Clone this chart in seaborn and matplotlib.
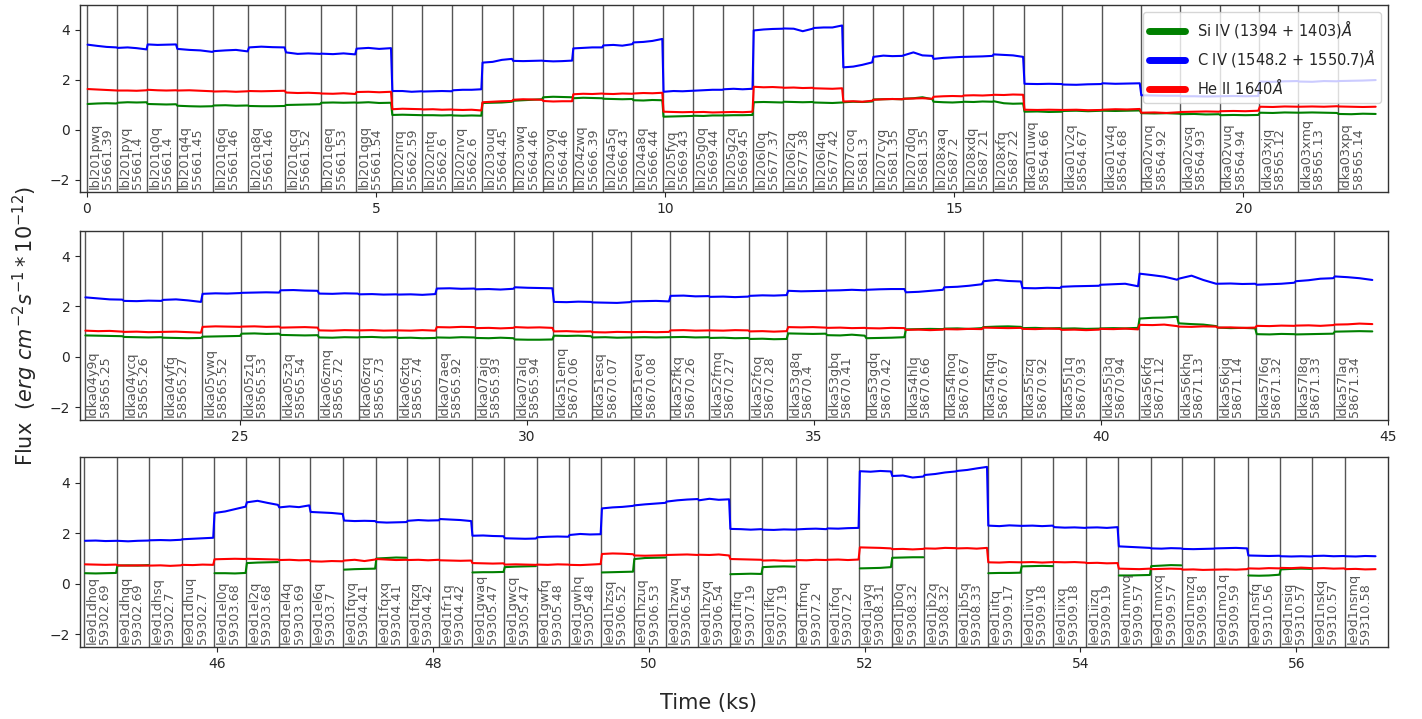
import numpy as np
import pandas as pd
import matplotlib
matplotlib.use("Agg")
import matplotlib.pyplot as plt
import matplotlib.transforms as mtransforms
from matplotlib.lines import Line2D
import seaborn as sns

sns.set_style("ticks")
plt.rcParams["font.family"] = ["DejaVu Sans"]

# ---------------- panel 1 ----------------
p1_obs = ["lbl201pwq", "lbl201pyq", "lbl201q0q", "lbl201q4q", "lbl201q6q", "lbl201q8q",
          "lbl201qcq", "lbl201qeq", "lbl201qgq", "lbl202nrq", "lbl202ntq", "lbl202nvq",
          "lbl203ouq", "lbl203owq", "lbl203oyq", "lbl204zwq", "lbl204a5q", "lbl204a8q",
          "lbl205fyq", "lbl205g0q", "lbl205g2q", "lbl206l0q", "lbl206l2q", "lbl206l4q",
          "lbl207coq", "lbl207cyq", "lbl207d0q", "lbl208xaq", "lbl208xdq", "lbl208xfq",
          "ldka01uwq", "ldka01v2q", "ldka01v4q", "ldka02vnq", "ldka02vsq", "ldka02vuq",
          "ldka03xjq", "ldka03xmq", "ldka03xpq"]
p1_mjd = ["55661.39", "55661.4", "55661.4", "55661.45", "55661.46", "55661.46",
          "55661.52", "55661.53", "55661.54", "55662.59", "55662.6", "55662.6",
          "55664.45", "55664.46", "55664.46", "55666.39", "55666.43", "55666.44",
          "55669.43", "55669.44", "55669.45", "55677.37", "55677.38", "55677.42",
          "55681.3", "55681.35", "55681.35", "55687.2", "55687.21", "55687.22",
          "58564.66", "58564.67", "58564.68", "58564.92", "58564.93", "58564.94",
          "58565.12", "58565.13", "58565.14"]
p1_start = [0.00, 0.52, 1.04, 1.55, 2.18, 2.79, 3.43, 4.04, 4.65, 5.27, 5.80, 6.32,
            6.83, 7.36, 7.88, 8.40, 8.92, 9.44, 9.96, 10.48, 11.00, 11.52, 12.04, 12.56,
            13.07, 13.59, 14.11, 14.63, 15.15, 15.67, 16.20, 16.87, 17.55, 18.22, 18.91,
            19.59, 20.27, 20.95, 21.63]
p1_end = 22.30
p1_si = [[1.03, 1.05, 1.06, 1.05], [1.08, 1.10, 1.09, 1.10], [1.03, 1.02, 1.01, 1.02],
         [0.96, 0.94, 0.93, 0.94], [0.97, 0.98, 0.96, 0.97], [0.95, 0.94, 0.94, 0.95],
         [0.99, 1.00, 1.01, 1.02], [1.08, 1.09, 1.08, 1.09], [1.08, 1.10, 1.07, 1.08],
         [0.59, 0.60, 0.59, 0.58], [0.58, 0.58, 0.57, 0.58], [0.57, 0.56, 0.57, 0.56],
         [1.07, 1.08, 1.09, 1.12], [1.16, 1.18, 1.20, 1.22], [1.30, 1.32, 1.31, 1.30],
         [1.26, 1.28, 1.27, 1.26], [1.24, 1.23, 1.22, 1.23], [1.18, 1.17, 1.19, 1.18],
         [0.52, 0.53, 0.54, 0.55], [0.56, 0.55, 0.57, 0.57], [0.57, 0.58, 0.58, 0.59],
         [1.10, 1.11, 1.10, 1.09], [1.12, 1.11, 1.10, 1.11], [1.09, 1.08, 1.07, 1.09],
         [1.10, 1.12, 1.11, 1.13], [1.21, 1.22, 1.23, 1.22], [1.24, 1.26, 1.30, 1.22],
         [1.12, 1.10, 1.09, 1.11], [1.12, 1.11, 1.13, 1.12], [1.14, 1.06, 1.04, 1.05],
         [0.72, 0.73, 0.71, 0.72], [0.75, 0.76, 0.74, 0.76], [0.76, 0.75, 0.76, 0.77],
         [0.66, 0.65, 0.66, 0.64], [0.62, 0.63, 0.61, 0.62], [0.58, 0.59, 0.58, 0.59],
         [0.68, 0.67, 0.69, 0.68], [0.68, 0.69, 0.68, 0.67], [0.63, 0.62, 0.64, 0.63]]
p1_civ = [[3.41, 3.36, 3.32, 3.30], [3.28, 3.30, 3.27, 3.22], [3.42, 3.40, 3.41, 3.42],
          [3.24, 3.20, 3.18, 3.12], [3.15, 3.18, 3.20, 3.14], [3.30, 3.33, 3.31, 3.30],
          [3.10, 3.04, 3.06, 3.04], [3.05, 3.03, 3.06, 3.02], [3.25, 3.28, 3.24, 3.27],
          [1.55, 1.55, 1.52, 1.54], [1.53, 1.54, 1.55, 1.54], [1.58, 1.60, 1.60, 1.62],
          [2.69, 2.72, 2.80, 2.84], [2.76, 2.75, 2.76, 2.77], [2.76, 2.74, 2.75, 2.77],
          [3.26, 3.28, 3.30, 3.30], [3.38, 3.40, 3.37, 3.43], [3.50, 3.52, 3.56, 3.64],
          [1.52, 1.55, 1.54, 1.56], [1.56, 1.58, 1.60, 1.60], [1.62, 1.64, 1.62, 1.64],
          [3.98, 4.02, 4.04, 4.05], [4.06, 4.05, 3.95, 4.05], [4.08, 4.10, 4.10, 4.18],
          [2.50, 2.53, 2.60, 2.70], [2.92, 2.97, 2.95, 2.96], [2.98, 3.10, 2.98, 2.96],
          [2.84, 2.88, 2.90, 2.92], [2.92, 2.93, 2.94, 2.96], [3.02, 3.00, 2.98, 2.92],
          [1.84, 1.83, 1.84, 1.83], [1.81, 1.80, 1.82, 1.83], [1.86, 1.84, 1.85, 1.86],
          [1.38, 1.37, 1.36, 1.36], [1.34, 1.34, 1.33, 1.34], [1.34, 1.35, 1.34, 1.35],
          [1.93, 1.92, 1.94, 1.95], [1.93, 1.92, 1.95, 1.94], [1.95, 1.96, 1.97, 1.99]]
p1_heii = [[1.63, 1.61, 1.59, 1.57], [1.57, 1.57, 1.56, 1.58], [1.60, 1.58, 1.57, 1.58],
           [1.57, 1.58, 1.56, 1.54], [1.53, 1.54, 1.52, 1.54], [1.55, 1.54, 1.55, 1.56],
           [1.49, 1.47, 1.48, 1.46], [1.45, 1.44, 1.46, 1.43], [1.51, 1.52, 1.50, 1.52],
           [0.82, 0.84, 0.83, 0.82], [0.81, 0.82, 0.80, 0.81], [0.80, 0.79, 0.80, 0.77],
           [1.10, 1.12, 1.14, 1.15], [1.20, 1.22, 1.21, 1.20], [1.15, 1.13, 1.14, 1.14],
           [1.42, 1.44, 1.43, 1.45], [1.44, 1.43, 1.45, 1.44], [1.45, 1.47, 1.46, 1.48],
           [0.72, 0.71, 0.70, 0.71], [0.70, 0.71, 0.69, 0.70], [0.70, 0.71, 0.70, 0.72],
           [1.72, 1.70, 1.71, 1.69], [1.68, 1.69, 1.67, 1.68], [1.66, 1.65, 1.64, 1.66],
           [1.13, 1.14, 1.12, 1.16], [1.20, 1.22, 1.23, 1.22], [1.24, 1.25, 1.26, 1.24],
           [1.32, 1.34, 1.35, 1.34], [1.37, 1.38, 1.37, 1.39], [1.40, 1.39, 1.41, 1.40],
           [0.80, 0.79, 0.80, 0.79], [0.79, 0.80, 0.78, 0.79], [0.80, 0.82, 0.81, 0.83],
           [0.68, 0.69, 0.67, 0.70], [0.71, 0.72, 0.73, 0.72], [0.74, 0.75, 0.74, 0.76],
           [0.92, 0.91, 0.93, 0.92], [0.92, 0.93, 0.92, 0.94], [0.93, 0.92, 0.91, 0.92]]

# ---------------- panel 2 ----------------
p2_obs = ["ldka04y9q", "ldka04ycq", "ldka04yfq", "ldka05ywq", "ldka05z1q", "ldka05z3q",
          "ldka06zmq", "ldka06zrq", "ldka06ztq", "ldka07aeq", "ldka07ajq", "ldka07alq",
          "ldka51emq", "ldka51esq", "ldka51evq", "ldka52fkq", "ldka52fmq", "ldka52foq",
          "ldka53g8q", "ldka53gbq", "ldka53gdq", "ldka54hlq", "ldka54hoq", "ldka54hqq",
          "ldka55izq", "ldka55j1q", "ldka55j3q", "ldka56kfq", "ldka56khq", "ldka56kjq",
          "ldka57l6q", "ldka57l8q", "ldka57laq"]
p2_mjd = ["58565.25", "58565.26", "58565.27", "58565.52", "58565.53", "58565.54",
          "58565.72", "58565.73", "58565.74", "58565.92", "58565.93", "58565.94",
          "58670.06", "58670.07", "58670.08", "58670.26", "58670.27", "58670.28",
          "58670.4", "58670.41", "58670.42", "58670.66", "58670.67", "58670.67",
          "58670.92", "58670.93", "58670.94", "58671.12", "58671.13", "58671.14",
          "58671.32", "58671.33", "58671.34"]
p2_start = [22.30, 22.97, 23.65, 24.34, 25.02, 25.70, 26.37, 27.07, 27.74, 28.42, 29.10,
            29.78, 30.46, 31.13, 31.81, 32.49, 33.18, 33.87, 34.54, 35.22, 35.90, 36.59,
            37.26, 37.94, 38.62, 39.30, 39.98, 40.66, 41.34, 42.02, 42.70, 43.38, 44.06]
p2_end = 44.74
p2_si = [[0.85, 0.84, 0.83, 0.82], [0.79, 0.78, 0.77, 0.78], [0.76, 0.75, 0.74, 0.75],
         [0.80, 0.81, 0.82, 0.83], [0.92, 0.93, 0.91, 0.92], [0.87, 0.86, 0.85, 0.86],
         [0.77, 0.76, 0.78, 0.77], [0.78, 0.79, 0.77, 0.78], [0.75, 0.76, 0.74, 0.75],
         [0.77, 0.76, 0.78, 0.77], [0.75, 0.74, 0.76, 0.74], [0.69, 0.68, 0.68, 0.69],
         [0.84, 0.83, 0.84, 0.82], [0.77, 0.78, 0.76, 0.77], [0.77, 0.78, 0.77, 0.78],
         [0.78, 0.79, 0.77, 0.78], [0.75, 0.76, 0.74, 0.75], [0.71, 0.72, 0.70, 0.71],
         [0.93, 0.92, 0.91, 0.92], [0.86, 0.85, 0.88, 0.84], [0.74, 0.75, 0.76, 0.78],
         [1.09, 1.10, 1.11, 1.10], [1.12, 1.13, 1.11, 1.14], [1.18, 1.20, 1.21, 1.19],
         [1.14, 1.15, 1.13, 1.14], [1.12, 1.13, 1.11, 1.12], [1.13, 1.14, 1.13, 1.15],
         [1.52, 1.55, 1.56, 1.59], [1.33, 1.30, 1.28, 1.22], [1.16, 1.14, 1.15, 1.13],
         [0.90, 0.89, 0.91, 0.90], [0.89, 0.90, 0.91, 0.92], [1.00, 1.01, 1.02, 1.01]]
p2_civ = [[2.36, 2.32, 2.28, 2.27], [2.22, 2.21, 2.23, 2.22], [2.26, 2.28, 2.24, 2.18],
          [2.50, 2.52, 2.51, 2.53], [2.54, 2.55, 2.56, 2.55], [2.64, 2.65, 2.63, 2.62],
          [2.51, 2.50, 2.52, 2.51], [2.48, 2.49, 2.47, 2.48], [2.47, 2.48, 2.46, 2.49],
          [2.71, 2.72, 2.70, 2.71], [2.68, 2.69, 2.67, 2.70], [2.76, 2.74, 2.73, 2.72],
          [2.18, 2.17, 2.19, 2.18], [2.16, 2.15, 2.14, 2.17], [2.20, 2.21, 2.22, 2.20],
          [2.42, 2.43, 2.40, 2.41], [2.38, 2.39, 2.37, 2.39], [2.42, 2.44, 2.43, 2.45],
          [2.62, 2.60, 2.61, 2.62], [2.63, 2.64, 2.66, 2.64], [2.66, 2.68, 2.69, 2.69],
          [2.56, 2.58, 2.62, 2.66], [2.76, 2.78, 2.82, 2.88], [3.00, 3.05, 3.01, 2.99],
          [2.73, 2.72, 2.74, 2.73], [2.78, 2.80, 2.81, 2.82], [2.86, 2.88, 2.90, 2.80],
          [3.30, 3.24, 3.18, 3.06], [3.10, 3.22, 3.05, 2.90], [2.90, 2.91, 2.89, 2.90],
          [2.86, 2.88, 2.90, 2.94], [3.00, 3.04, 3.10, 3.12], [3.19, 3.16, 3.12, 3.05]]
p2_heii = [[1.04, 1.02, 1.03, 1.00], [0.99, 1.00, 0.98, 0.99], [0.99, 1.00, 0.98, 0.96],
           [1.19, 1.21, 1.20, 1.19], [1.20, 1.21, 1.19, 1.20], [1.16, 1.17, 1.18, 1.16],
           [1.05, 1.04, 1.06, 1.05], [1.05, 1.06, 1.04, 1.05], [1.05, 1.04, 1.06, 1.04],
           [1.18, 1.17, 1.19, 1.18], [1.14, 1.15, 1.13, 1.15], [1.18, 1.16, 1.17, 1.15],
           [1.01, 1.02, 1.00, 1.01], [0.98, 0.97, 0.99, 0.98], [0.98, 0.99, 0.98, 0.99],
           [1.05, 1.06, 1.04, 1.05], [1.05, 1.04, 1.06, 1.05], [1.01, 1.02, 1.00, 1.02],
           [1.18, 1.17, 1.18, 1.16], [1.15, 1.16, 1.14, 1.15], [1.14, 1.13, 1.15, 1.14],
           [1.07, 1.08, 1.06, 1.08], [1.10, 1.09, 1.11, 1.10], [1.16, 1.15, 1.14, 1.15],
           [1.11, 1.10, 1.12, 1.11], [1.07, 1.08, 1.06, 1.08], [1.11, 1.10, 1.12, 1.09],
           [1.27, 1.26, 1.28, 1.22], [1.20, 1.19, 1.21, 1.20], [1.16, 1.17, 1.15, 1.16],
           [1.23, 1.22, 1.24, 1.23], [1.24, 1.25, 1.23, 1.26], [1.28, 1.29, 1.32, 1.30]]

# ---------------- panel 3 ----------------
p3_obs = ["le9d1dhoq", "le9d1dhqq", "le9d1dhsq", "le9d1dhuq", "le9d1el0q", "le9d1el2q",
          "le9d1el4q", "le9d1el6q", "le9d1fqvq", "le9d1fqxq", "le9d1fqzq", "le9d1fr1q",
          "le9d1gwaq", "le9d1gwcq", "le9d1gwfq", "le9d1gwhq", "le9d1hzsq", "le9d1hzuq",
          "le9d1hzwq", "le9d1hzyq", "le9d1ifiq", "le9d1ifkq", "le9d1ifmq", "le9d1ifoq",
          "le9d1jayq", "le9d1jb0q", "le9d1jb2q", "le9d1jb5q", "le9d1iitq", "le9d1iivq",
          "le9d1iixq", "le9d1iizq", "le9d1mnvq", "le9d1mnxq", "le9d1mnzq", "le9d1mo1q",
          "le9d1nsfq", "le9d1nsiq", "le9d1nskq", "le9d1nsmq"]
p3_mjd = ["59302.69", "59302.69", "59302.7", "59302.7", "59303.68", "59303.68",
          "59303.69", "59303.7", "59304.41", "59304.41", "59304.42", "59304.42",
          "59305.47", "59305.47", "59305.48", "59305.48", "59306.52", "59306.53",
          "59306.54", "59306.54", "59307.19", "59307.19", "59307.2", "59307.2",
          "59308.31", "59308.32", "59308.32", "59308.33", "59309.17", "59309.18",
          "59309.18", "59309.19", "59309.57", "59309.57", "59309.58", "59309.59",
          "59310.56", "59310.57", "59310.57", "59310.58"]
p3_start = [44.77, 45.07, 45.37, 45.67, 45.97, 46.27, 46.57, 46.86, 47.17, 47.47, 47.76,
            48.06, 48.36, 48.66, 48.96, 49.26, 49.56, 49.86, 50.16, 50.46, 50.75, 51.05,
            51.36, 51.65, 51.95, 52.25, 52.55, 52.85, 53.14, 53.45, 53.75, 54.05, 54.35,
            54.65, 54.94, 55.24, 55.55, 55.85, 56.15, 56.45]
p3_end = 56.74
nan = np.nan
gap = [nan, nan, nan, nan]
p3_si = [[0.42, 0.41, 0.42, 0.43], [0.72, 0.73, 0.72, 0.74], gap, gap,
         [0.42, 0.42, 0.41, 0.43], [0.82, 0.84, 0.85, 0.86], gap, gap,
         [0.56, 0.58, 0.59, 0.60], [1.00, 1.02, 1.04, 1.03], gap, gap,
         [0.45, 0.46, 0.46, 0.47], [0.66, 0.68, 0.69, 0.70], gap, gap,
         [0.45, 0.46, 0.47, 0.48], [0.98, 1.02, 1.03, 1.04], gap, gap,
         [0.38, 0.39, 0.40, 0.39], [0.66, 0.68, 0.69, 0.68], gap, gap,
         [0.61, 0.62, 0.63, 0.66], [1.03, 1.04, 1.05, 1.05], gap, gap,
         [0.42, 0.43, 0.43, 0.44], [0.69, 0.70, 0.71, 0.70], gap, gap,
         [0.33, 0.33, 0.34, 0.35], [0.70, 0.72, 0.74, 0.73], gap, gap,
         [0.33, 0.32, 0.33, 0.36], [0.57, 0.59, 0.60, 0.59], gap, gap]
p3_civ = [[1.70, 1.71, 1.69, 1.70], [1.70, 1.68, 1.70, 1.71], [1.72, 1.73, 1.72, 1.74],
          [1.76, 1.78, 1.80, 1.82], [2.80, 2.86, 2.95, 3.05], [3.22, 3.28, 3.20, 3.12],
          [3.02, 3.06, 3.03, 3.10], [2.84, 2.82, 2.80, 2.76], [2.50, 2.48, 2.49, 2.48],
          [2.44, 2.42, 2.43, 2.44], [2.49, 2.52, 2.50, 2.51], [2.56, 2.54, 2.52, 2.48],
          [1.90, 1.91, 1.89, 1.88], [1.80, 1.79, 1.78, 1.79], [1.84, 1.86, 1.87, 1.86],
          [1.93, 1.97, 1.95, 1.96], [2.98, 3.02, 3.04, 3.08], [3.10, 3.14, 3.17, 3.20],
          [3.25, 3.30, 3.33, 3.35], [3.30, 3.36, 3.32, 3.34], [2.17, 2.16, 2.14, 2.16],
          [2.14, 2.13, 2.15, 2.14], [2.15, 2.17, 2.18, 2.16], [2.19, 2.18, 2.20, 2.21],
          [4.45, 4.43, 4.46, 4.44], [4.26, 4.28, 4.20, 4.24], [4.30, 4.34, 4.40, 4.44],
          [4.46, 4.50, 4.56, 4.62], [2.30, 2.28, 2.31, 2.29], [2.29, 2.30, 2.28, 2.30],
          [2.24, 2.22, 2.23, 2.21], [2.22, 2.23, 2.21, 2.24], [1.48, 1.46, 1.44, 1.42],
          [1.40, 1.39, 1.41, 1.40], [1.38, 1.37, 1.38, 1.39], [1.40, 1.41, 1.42, 1.40],
          [1.12, 1.11, 1.10, 1.11], [1.09, 1.08, 1.09, 1.08], [1.10, 1.11, 1.09, 1.10],
          [1.09, 1.08, 1.10, 1.09]]
p3_heii = [[0.77, 0.76, 0.75, 0.76], [0.73, 0.72, 0.73, 0.72], [0.72, 0.73, 0.71, 0.73],
           [0.75, 0.74, 0.76, 0.75], [0.97, 0.98, 0.99, 0.98], [0.99, 0.98, 0.97, 0.96],
           [0.94, 0.95, 0.93, 0.94], [0.89, 0.88, 0.90, 0.89], [0.92, 0.95, 0.90, 0.96],
           [0.98, 0.96, 0.94, 0.95], [0.94, 0.95, 0.93, 0.95], [0.93, 0.92, 0.91, 0.92],
           [0.82, 0.81, 0.80, 0.81], [0.76, 0.77, 0.76, 0.75], [0.76, 0.75, 0.77, 0.76],
           [0.75, 0.74, 0.76, 0.78], [1.18, 1.20, 1.19, 1.17], [1.12, 1.11, 1.12, 1.13],
           [1.14, 1.15, 1.16, 1.14], [1.15, 1.14, 1.16, 1.12], [0.98, 0.97, 0.96, 0.95],
           [0.92, 0.93, 0.91, 0.92], [0.94, 0.93, 0.95, 0.94], [0.95, 0.96, 0.94, 0.96],
           [1.44, 1.43, 1.42, 1.40], [1.37, 1.38, 1.36, 1.38], [1.40, 1.39, 1.42, 1.41],
           [1.40, 1.41, 1.39, 1.42], [0.85, 0.84, 0.86, 0.85], [0.85, 0.86, 0.84, 0.86],
           [0.86, 0.85, 0.86, 0.84], [0.82, 0.83, 0.81, 0.82], [0.60, 0.59, 0.58, 0.60],
           [0.58, 0.59, 0.60, 0.59], [0.56, 0.57, 0.55, 0.56], [0.56, 0.57, 0.56, 0.58],
           [0.61, 0.60, 0.62, 0.61], [0.63, 0.62, 0.64, 0.62], [0.61, 0.62, 0.60, 0.61],
           [0.58, 0.59, 0.57, 0.58]]

line_names = ["Si IV (1394 + 1403)$\\mathit{Å}$",
              "C IV (1548.2 + 1550.7)$\\mathit{Å}$",
              "He II 1640$\\mathit{Å}$"]
line_colors = ["green", "blue", "red"]

panels = [
    dict(obs=p1_obs, mjd=p1_mjd, start=p1_start, end=p1_end,
         series=[p1_si, p1_civ, p1_heii], xlim=(-0.12, 22.5),
         rect=[0.0563, 0.733, 0.9198, 0.260]),
    dict(obs=p2_obs, mjd=p2_mjd, start=p2_start, end=p2_end,
         series=[p2_si, p2_civ, p2_heii], xlim=(22.22, 45.0),
         rect=[0.0563, 0.416, 0.9198, 0.263]),
    dict(obs=p3_obs, mjd=p3_mjd, start=p3_start, end=p3_end,
         series=[p3_si, p3_civ, p3_heii], xlim=(44.73, 56.85),
         rect=[0.0563, 0.100, 0.9198, 0.264]),
]

# sample positions inside each exposure (fraction of its length)
frac = np.array([0.02, 0.35, 0.65, 0.98])


def build_frame(p):
    edges = list(p["start"]) + [p["end"]]
    rows = []
    for name, vals in zip(line_names, p["series"]):
        run = 0
        prev_nan = False
        for i, seg in enumerate(vals):
            t0, t1 = edges[i], edges[i + 1]
            seg_nan = np.all(np.isnan(seg))
            if seg_nan and not prev_nan:
                run += 1
            prev_nan = seg_nan
            for f, v in zip(frac, seg):
                rows.append(dict(t=t0 + f * (t1 - t0), flux=v, line=name,
                                 unit=f"{name}-{run}"))
    return pd.DataFrame(rows)


fig = plt.figure(figsize=(14.22, 7.19), dpi=100)
palette = dict(zip(line_names, line_colors))

for k, p in enumerate(panels):
    ax = fig.add_axes(p["rect"])
    df = build_frame(p)
    sns.lineplot(data=df, x="t", y="flux", hue="line", hue_order=line_names,
                 units="unit", estimator=None, palette=palette, linewidth=1.5,
                 legend=False, ax=ax)
    ax.set_xlim(*p["xlim"])
    ax.set_ylim(-2.5, 5)
    ax.set_yticks([-2, 0, 2, 4])
    ax.set_xlabel("")
    ax.set_ylabel("")
    ax.tick_params(labelsize=10, direction="out", length=3.5, width=0.8)
    for sp in ax.spines.values():
        sp.set_color("#333333")
        sp.set_linewidth(1.0)

    shifted = mtransforms.offset_copy(ax.transData, fig=fig, x=1.5, y=0, units="dots")
    for t0, ob, mj in zip(p["start"], p["obs"], p["mjd"]):
        ax.axvline(t0, color="#555555", lw=1.0, zorder=1)
        ax.text(t0, -2.38, f"{ob}\n{mj}", rotation=90, ha="left", va="bottom",
                fontsize=9.2, color="#555555", transform=shifted,
                linespacing=0.95)

    if k == 0:
        handles = [Line2D([], [], color=c, lw=5) for c in line_colors]
        ax.legend(handles, line_names, loc="upper right", fontsize=10.5,
                  handlelength=2.5, framealpha=0.8)

fig.text(0.018, 0.547, r"Flux  $(erg\ cm^{-2}s^{-1} * 10^{-12})$", rotation=90,
         ha="center", va="center", fontsize=15)
fig.text(0.498, 0.022, "Time (ks)", ha="center", va="center", fontsize=15)

fig.savefig("out.png", dpi=100)
